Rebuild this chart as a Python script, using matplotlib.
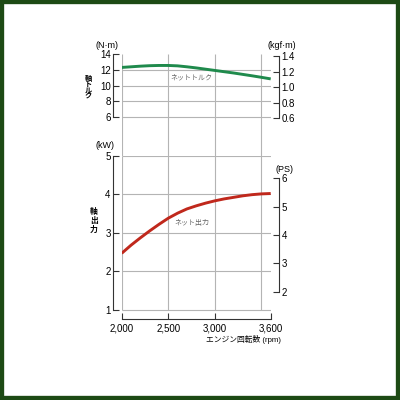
import matplotlib.pyplot as plt
from matplotlib.patches import Rectangle

plt.rcParams['font.family'] = ['Liberation Sans', 'Noto Sans CJK JP']

# engine speed (rpm)
rpm = [2000, 2100, 2200, 2300, 2400, 2500, 2600, 2700, 2800, 2900,
       3000, 3100, 3200, 3300, 3400, 3500, 3600]
# net torque (N·m)
torque = [12.3, 12.38, 12.46, 12.52, 12.55, 12.55, 12.5, 12.38, 12.24, 12.08,
          11.92, 11.76, 11.6, 11.42, 11.24, 11.05, 10.85]
# net output (kW)
power = [2.47, 2.68, 2.87, 3.05, 3.22, 3.38, 3.51, 3.62, 3.70, 3.77,
         3.83, 3.88, 3.92, 3.96, 3.99, 4.01, 4.02]

x_ticks = [2000, 2500, 3000, 3600]
x_labels = ['2,000', '2,500', '3,000', '3,600']
grid_x = [2000, 2500, 3000, 3500]
nm_ticks = [6, 8, 10, 12, 14]
kgf_ticks = [0.6, 0.8, 1.0, 1.2, 1.4]
kw_ticks = [1, 2, 3, 4, 5]
ps_ticks = [2, 3, 4, 5, 6]

KGF = 9.80665
PS = 0.7355
grid_c = '#b4b4b4'
spine_c = '#333333'
fs = 7

fig = plt.figure(figsize=(4, 4), dpi=100)
fig.patches.append(Rectangle((0, 0), 1, 1, transform=fig.transFigure,
                             fill=False, edgecolor='#1d4a14', linewidth=6))

ax_t = fig.add_axes([0.30425, 0.61075, 0.3725, 0.25425])
ax_p = fig.add_axes([0.30425, 0.2025, 0.3725, 0.40825])

t_lim = (1.13, 14)
p_lim = (0.767, 5)
ax_t.set_ylim(t_lim)
ax_p.set_ylim(p_lim)
for ax in (ax_t, ax_p):
    ax.set_xlim(2000, 3600)
    ax.patch.set_alpha(0)

# grid
ax_t.vlines(grid_x, t_lim[0], 14, color=grid_c, lw=0.8)
ax_t.hlines(nm_ticks[:-1], 2000, 3600, color=grid_c, lw=0.8)
ax_p.vlines(grid_x, 1, 5, color=grid_c, lw=0.8)
ax_p.hlines(kw_ticks, 2000, 3600, color=grid_c, lw=0.8)

ax_t.plot(rpm, torque, color='#1f8a4c', lw=2.1, solid_capstyle='butt')
ax_p.plot(rpm, power, color='#c0281c', lw=2.1, solid_capstyle='butt')
ax_t.text(2750, 10.95, 'ネットトルク', fontsize=5, color='#666666', ha='center', va='center')
ax_p.text(2750, 3.23, 'ネット出力', fontsize=5, color='#666666', ha='center', va='center')

ax_t2 = ax_t.twinx()
ax_t2.set_ylim(t_lim[0] / KGF, t_lim[1] / KGF)
ax_p2 = ax_p.twinx()
ax_p2.set_ylim(p_lim[0] / PS, p_lim[1] / PS)


def style(ax, side, bounds, ticks, labels):
    for s in ax.spines.values():
        s.set_visible(False)
    sp = ax.spines[side]
    sp.set_visible(True)
    sp.set_bounds(*bounds)
    sp.set_position(('outward', 6))
    sp.set_color(spine_c)
    sp.set_linewidth(0.8)
    ax.set_yticks(ticks)
    ax.set_yticklabels(labels)
    ax.tick_params(axis='y', direction='in', length=4, width=0.8, color=spine_c,
                   labelsize=fs, pad=2, left=(side == 'left'), right=(side == 'right'),
                   labelleft=(side == 'left'), labelright=(side == 'right'))


style(ax_t, 'left', (6, 14), nm_ticks, [str(v) for v in nm_ticks])
style(ax_t2, 'right', (0.6, 1.4), kgf_ticks, ['%.1f' % v for v in kgf_ticks])
style(ax_p, 'left', (1, 5), kw_ticks, [str(v) for v in kw_ticks])
style(ax_p2, 'right', (2, 6), ps_ticks, [str(v) for v in ps_ticks])

ax_t.tick_params(axis='x', bottom=False, labelbottom=False)
ax_t2.tick_params(axis='x', bottom=False, labelbottom=False)
ax_p.spines['bottom'].set_visible(True)
ax_p.spines['bottom'].set_bounds(2000, 3600)
ax_p.spines['bottom'].set_color(spine_c)
ax_p.spines['bottom'].set_linewidth(0.8)
ax_p.set_xticks(x_ticks)
ax_p.set_xticklabels(x_labels)
ax_p.tick_params(axis='x', direction='in', length=4, width=0.8, color=spine_c,
                 labelsize=fs, pad=3)

# units and axis titles
fig.text(107 / 400, 1 - 45 / 400, '(N·m)', fontsize=6.5, ha='center', va='center')
fig.text(282 / 400, 1 - 45 / 400, '(kgf·m)', fontsize=6.5, ha='center', va='center')
fig.text(105 / 400, 1 - 146 / 400, '(kW)', fontsize=6.5, ha='center', va='center')
fig.text(285 / 400, 1 - 169 / 400, '(PS)', fontsize=6.5, ha='center', va='center')
fig.text(88.5 / 400, 1 - 88 / 400, '軸\nト\nル\nク', fontsize=5.2, ha='center', va='center',
         linespacing=0.8, fontweight='bold')
fig.text(94 / 400, 1 - 221 / 400, '軸\n出\n力', fontsize=5.6, ha='center', va='center',
         linespacing=1.1, fontweight='bold')
fig.text(281 / 400, 1 - 340 / 400, 'エンジン回転数 (rpm)', fontsize=5.6, ha='right', va='center')

fig.savefig('out.png', dpi=100)
